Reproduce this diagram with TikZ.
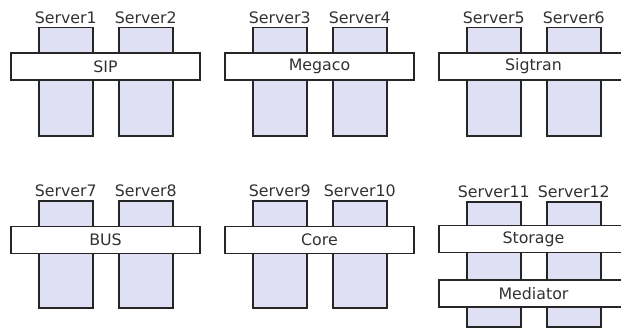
\documentclass[tikz,border=0pt]{standalone}
\usepackage{fontspec}
\setmainfont{DejaVu Sans}
\usetikzlibrary{positioning}
\definecolor{srvfill}{RGB}{224,224,244}
\definecolor{txtgray}{RGB}{50,50,50}

\tikzset{
  server/.style={draw=black!85,line width=1.5pt,fill=srvfill,minimum width=54pt,inner sep=0pt,anchor=north west},
  busbar/.style={draw=black!85,line width=1.5pt,fill=white,minimum width=189pt,minimum height=27pt,inner sep=0pt,text=txtgray},
  srvname/.style={inner sep=0pt,text=txtgray}
}

\begin{document}
\begin{tikzpicture}[x=1pt,y=-1pt,font=\fontsize{15.8}{18}\selectfont]
  \clip (0,0) rectangle (621,329);
  % servers
  \begin{scope}[every node/.style={server,minimum height=108pt}]
    \node (s1) at (38,27) {};
    \node (s2) at (118,27) {};
    \node (s3) at (252,27) {};
    \node (s4) at (332,27) {};
    \node (s5) at (466,27) {};
    \node (s6) at (546,27) {};
  \end{scope}
  \begin{scope}[every node/.style={server,minimum height=107pt}]
    \node (s7) at (38,200) {};
    \node (s8) at (118,200) {};
    \node (s9) at (252,200) {};
    \node (s10) at (332,200) {};
  \end{scope}
  \begin{scope}[every node/.style={server,minimum height=125pt}]
    \node (s11) at (466,201) {};
    \node (s12) at (546,201) {};
  \end{scope}
  % names
  \foreach \n in {1,...,12}
    \node[srvname,above=3.5pt of s\n] (l\n) {Server\n};
  % buses
  \node[busbar] (sip) at (105.5,66.5) {SIP};
  \node[busbar] (megaco) at (319.5,66.5) {Megaco};
  \node[busbar] (sigtran) at (533.5,66.5) {Sigtran};
  \node[busbar] (bus) at (105.5,240) {BUS};
  \node[busbar] (core) at (319.5,240) {Core};
  \node[busbar] (storage) at (533.5,239) {Storage};
  \node[busbar] (mediator) at (533.5,293.5) {Mediator};
\end{tikzpicture}
\end{document}
